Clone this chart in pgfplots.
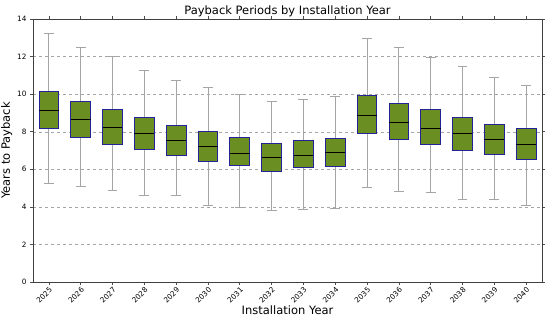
\documentclass[border=0pt]{standalone}
\usepackage{pgfplots}
\pgfplotsset{compat=1.18}
\usepgfplotslibrary{statistics}
\usepackage{fontspec}
\setmainfont{DejaVu Sans}
\definecolor{boxfill}{RGB}{107,142,35}
\definecolor{boxedge}{RGB}{35,35,150}
\definecolor{whisk}{RGB}{165,165,165}
\begin{document}
\begin{tikzpicture}
\begin{axis}[
  name=ax,
  scale only axis,
  width=509pt, height=263pt,
  xmin=-0.5, xmax=15.5, ymin=0, ymax=14,
  xtick={0,...,15},
  xticklabels={2025,2026,2027,2028,2029,2030,2031,2032,2033,2034,2035,2036,2037,2038,2039,2040},
  xticklabel style={rotate=45, anchor=north east, font=\fontsize{7.3}{8}\selectfont, inner sep=1pt},
  ytick={0,2,...,14},
  yticklabel style={font=\fontsize{7.3}{8}\selectfont},
  /pgf/number format/assume math mode=true,
  tick align=outside,
  tick style={color=black!70, line width=0.6pt},
  major tick length=3pt,
  axis line style={black!75},
  ymajorgrids,
  grid style={dashed, black!35, line width=0.4pt},
  title={Payback Periods by Installation Year},
  title style={font=\fontsize{11.5}{12}\selectfont, yshift=-7pt},
  xlabel={Installation Year},
  ylabel={Years to Payback},
  label style={font=\fontsize{11.5}{12}\selectfont},
  xlabel style={yshift=3pt},
  ylabel style={yshift=-2pt},
  boxplot/draw direction=y,
  boxplot/box extend=0.62,
  boxplot/whisker extend=0.31,
  boxplot/every whisker/.style={draw=whisk, line width=0.9pt},
  boxplot/every median/.style={draw=black, line width=1pt},
  boxplot/every box/.style={draw=boxedge, fill=boxfill, line width=0.9pt},
  every axis plot/.append style={solid},
]
\addplot[boxplot prepared={draw position=0, lower whisker=5.26, lower quartile=8.17, median=9.14, upper quartile=10.17, upper whisker=13.23}] coordinates {};
\addplot[boxplot prepared={draw position=1, lower whisker=5.10, lower quartile=7.72, median=8.65, upper quartile=9.60, upper whisker=12.46}] coordinates {};
\addplot[boxplot prepared={draw position=2, lower whisker=4.90, lower quartile=7.30, median=8.22, upper quartile=9.18, upper whisker=12.02}] coordinates {};
\addplot[boxplot prepared={draw position=3, lower whisker=4.60, lower quartile=7.07, median=7.90, upper quartile=8.75, upper whisker=11.27}] coordinates {};
\addplot[boxplot prepared={draw position=4, lower whisker=4.63, lower quartile=6.75, median=7.55, upper quartile=8.34, upper whisker=10.72}] coordinates {};
\addplot[boxplot prepared={draw position=5, lower whisker=4.10, lower quartile=6.43, median=7.23, upper quartile=7.99, upper whisker=10.33}] coordinates {};
\addplot[boxplot prepared={draw position=6, lower whisker=3.98, lower quartile=6.18, median=6.84, upper quartile=7.69, upper whisker=9.96}] coordinates {};
\addplot[boxplot prepared={draw position=7, lower whisker=3.80, lower quartile=5.91, median=6.62, upper quartile=7.37, upper whisker=9.62}] coordinates {};
\addplot[boxplot prepared={draw position=8, lower whisker=3.86, lower quartile=6.09, median=6.75, upper quartile=7.51, upper whisker=9.73}] coordinates {};
\addplot[boxplot prepared={draw position=9, lower whisker=3.91, lower quartile=6.16, median=6.87, upper quartile=7.63, upper whisker=9.90}] coordinates {};
\addplot[boxplot prepared={draw position=10, lower whisker=5.01, lower quartile=7.93, median=8.86, upper quartile=9.94, upper whisker=12.94}] coordinates {};
\addplot[boxplot prepared={draw position=11, lower whisker=4.81, lower quartile=7.60, median=8.47, upper quartile=9.53, upper whisker=12.48}] coordinates {};
\addplot[boxplot prepared={draw position=12, lower whisker=4.76, lower quartile=7.30, median=8.18, upper quartile=9.16, upper whisker=11.97}] coordinates {};
\addplot[boxplot prepared={draw position=13, lower whisker=4.37, lower quartile=7.01, median=7.90, upper quartile=8.77, upper whisker=11.45}] coordinates {};
\addplot[boxplot prepared={draw position=14, lower whisker=4.42, lower quartile=6.78, median=7.58, upper quartile=8.41, upper whisker=10.90}] coordinates {};
\addplot[boxplot prepared={draw position=15, lower whisker=4.08, lower quartile=6.52, median=7.32, upper quartile=8.15, upper whisker=10.46}] coordinates {};
\end{axis}
\pgfresetboundingbox
\useasboundingbox ([xshift=-33pt,yshift=-43pt]ax.south west) rectangle ([xshift=8pt,yshift=19pt]ax.north east);
\end{tikzpicture}
\end{document}
